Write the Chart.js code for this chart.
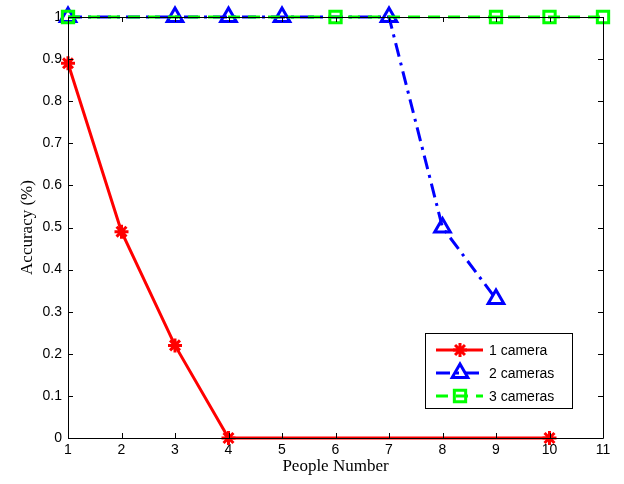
<!DOCTYPE html>
<html>
<head>
<meta charset="utf-8">
<script src="https://cdn.jsdelivr.net/npm/chart.js@4"></script>
<style>
  html, body { margin: 0; padding: 0; background: #fff; }
  canvas { display: block; }
</style>
</head>
<body>
<canvas id="myChart" width="624" height="484"></canvas>
<script>
// data
const seriesNames = ['1 camera', '2 cameras', '3 cameras'];
const cam1X = [1, 2, 3, 4, 10];
const cam1Y = [0.89, 0.49, 0.22, 0, 0];
const cam2X = [1, 3, 4, 5, 7, 8, 9];
const cam2Y = [1, 1, 1, 1, 1, 0.5, 0.33];
const cam3X = [1, 6, 9, 10, 11];
const cam3Y = [1, 1, 1, 1, 1];
const xTicks = [1, 2, 3, 4, 5, 6, 7, 8, 9, 10, 11];
const yTicks = [0, 0.1, 0.2, 0.3, 0.4, 0.5, 0.6, 0.7, 0.8, 0.9, 1];

function pts(xs, ys) {
  return xs.map(function (x, i) { return { x: x, y: ys[i] }; });
}

// matlab style box with inward ticks + legend in the corner
const boxPlugin = {
  id: 'boxPlugin',
  afterDraw: function (chart) {
    const ctx = chart.ctx;
    const a = chart.chartArea;
    const xs = chart.scales.x, ys = chart.scales.y;
    ctx.save();
    ctx.strokeStyle = '#000';
    ctx.lineWidth = 1;
    ctx.beginPath();
    ctx.rect(a.left + 0.5, a.top + 0.5, a.right - a.left, a.bottom - a.top);
    const t = 5;
    xTicks.forEach(function (v) {
      const px = Math.round(xs.getPixelForValue(v)) + 0.5;
      ctx.moveTo(px, a.bottom); ctx.lineTo(px, a.bottom - t);
      ctx.moveTo(px, a.top); ctx.lineTo(px, a.top + t);
    });
    yTicks.forEach(function (v) {
      const py = Math.round(ys.getPixelForValue(v)) + 0.5;
      ctx.moveTo(a.left, py); ctx.lineTo(a.left + t, py);
      ctx.moveTo(a.right, py); ctx.lineTo(a.right - t, py);
    });
    ctx.stroke();

    // legend
    const lx = 425, ly = 333, lw = 147, lh = 75;
    ctx.fillStyle = '#fff';
    ctx.fillRect(lx, ly, lw, lh);
    ctx.strokeStyle = '#000';
    ctx.lineWidth = 1;
    ctx.strokeRect(lx + 0.5, ly + 0.5, lw, lh);
    ctx.font = '14px "Liberation Sans", Arial, sans-serif';
    ctx.textBaseline = 'middle';
    chart.data.datasets.forEach(function (ds, i) {
      const y = ly + 17 + i * 23;
      ctx.strokeStyle = ds.borderColor;
      ctx.lineWidth = ds.borderWidth;
      ctx.setLineDash(ds.borderDash || []);
      ctx.beginPath();
      ctx.moveTo(436, y); ctx.lineTo(483, y);
      ctx.stroke();
      ctx.setLineDash([]);
      ctx.lineWidth = ds.pointBorderWidth;
      ctx.strokeStyle = ds.pointBorderColor;
      ctx.fillStyle = ds.pointBackgroundColor;
      Chart.helpers.drawPoint(ctx, {
        pointStyle: ds.pointStyle, rotation: 0, radius: ds.pointRadius, borderWidth: ds.pointBorderWidth
      }, 460, y);
      ctx.fillStyle = '#000';
      ctx.fillText(seriesNames[i], 489, y + 1);
    });
    ctx.restore();
  }
};

const tickFont = { family: '"Liberation Sans", Arial, sans-serif', size: 14 };
const titleFont = { family: '"Liberation Serif", "Times New Roman", serif', size: 17 };

new Chart(document.getElementById('myChart'), {
  type: 'line',
  data: {
    datasets: [
      {
        label: seriesNames[0],
        data: pts(cam1X, cam1Y),
        order: 0,
        borderColor: '#ff0000',
        backgroundColor: '#ff0000',
        borderWidth: 3,
        pointStyle: 'star',
        pointRadius: 7,
        pointBorderWidth: 3,
        pointBorderColor: '#ff0000',
        pointBackgroundColor: '#ff0000',
        clip: false
      },
      {
        label: seriesNames[1],
        data: pts(cam2X, cam2Y),
        order: 2,
        borderColor: '#0000ff',
        backgroundColor: 'rgba(0,0,0,0)',
        borderWidth: 3,
        borderDash: [14, 6, 3, 6],
        pointStyle: 'triangle',
        pointRadius: 9,
        pointBorderWidth: 3,
        pointBorderColor: '#0000ff',
        pointBackgroundColor: 'rgba(0,0,0,0)',
        clip: false
      },
      {
        label: seriesNames[2],
        data: pts(cam3X, cam3Y),
        order: 1,
        borderColor: '#00ff00',
        backgroundColor: 'rgba(0,0,0,0)',
        borderWidth: 3,
        borderDash: [12, 8],
        pointStyle: 'rect',
        pointRadius: 8,
        pointBorderWidth: 3,
        pointBorderColor: '#00ff00',
        pointBackgroundColor: 'rgba(0,0,0,0)',
        clip: false
      }
    ]
  },
  options: {
    responsive: false,
    animation: false,
    layout: { padding: { left: 0, right: 21, top: 17, bottom: 0 } },
    plugins: {
      legend: { display: false },
      tooltip: { enabled: false }
    },
    scales: {
      x: {
        type: 'linear',
        min: 1,
        max: 11,
        afterFit: function (s) { s.height = 46; },
        afterBuildTicks: function (s) { s.ticks = xTicks.map(function (v) { return { value: v }; }); },
        grid: { display: false, drawTicks: false },
        border: { display: false },
        ticks: { color: '#000', font: tickFont, padding: 4, maxRotation: 0 },
        title: { display: true, text: 'People Number', color: '#000', font: titleFont, padding: { top: 0, bottom: 7 } }
      },
      y: {
        min: 0,
        max: 1,
        afterFit: function (s) { s.width = 68; },
        afterBuildTicks: function (s) { s.ticks = yTicks.map(function (v) { return { value: v }; }); },
        grid: { display: false, drawTicks: false },
        border: { display: false },
        ticks: { color: '#000', font: tickFont, padding: 6, callback: function (v) { return String(Math.round(v * 10) / 10); } },
        title: { display: true, text: 'Accuracy (%)', color: '#000', font: titleFont, padding: { top: 17, bottom: 0 } }
      }
    }
  },
  plugins: [boxPlugin]
});
</script>
</body>
</html>
